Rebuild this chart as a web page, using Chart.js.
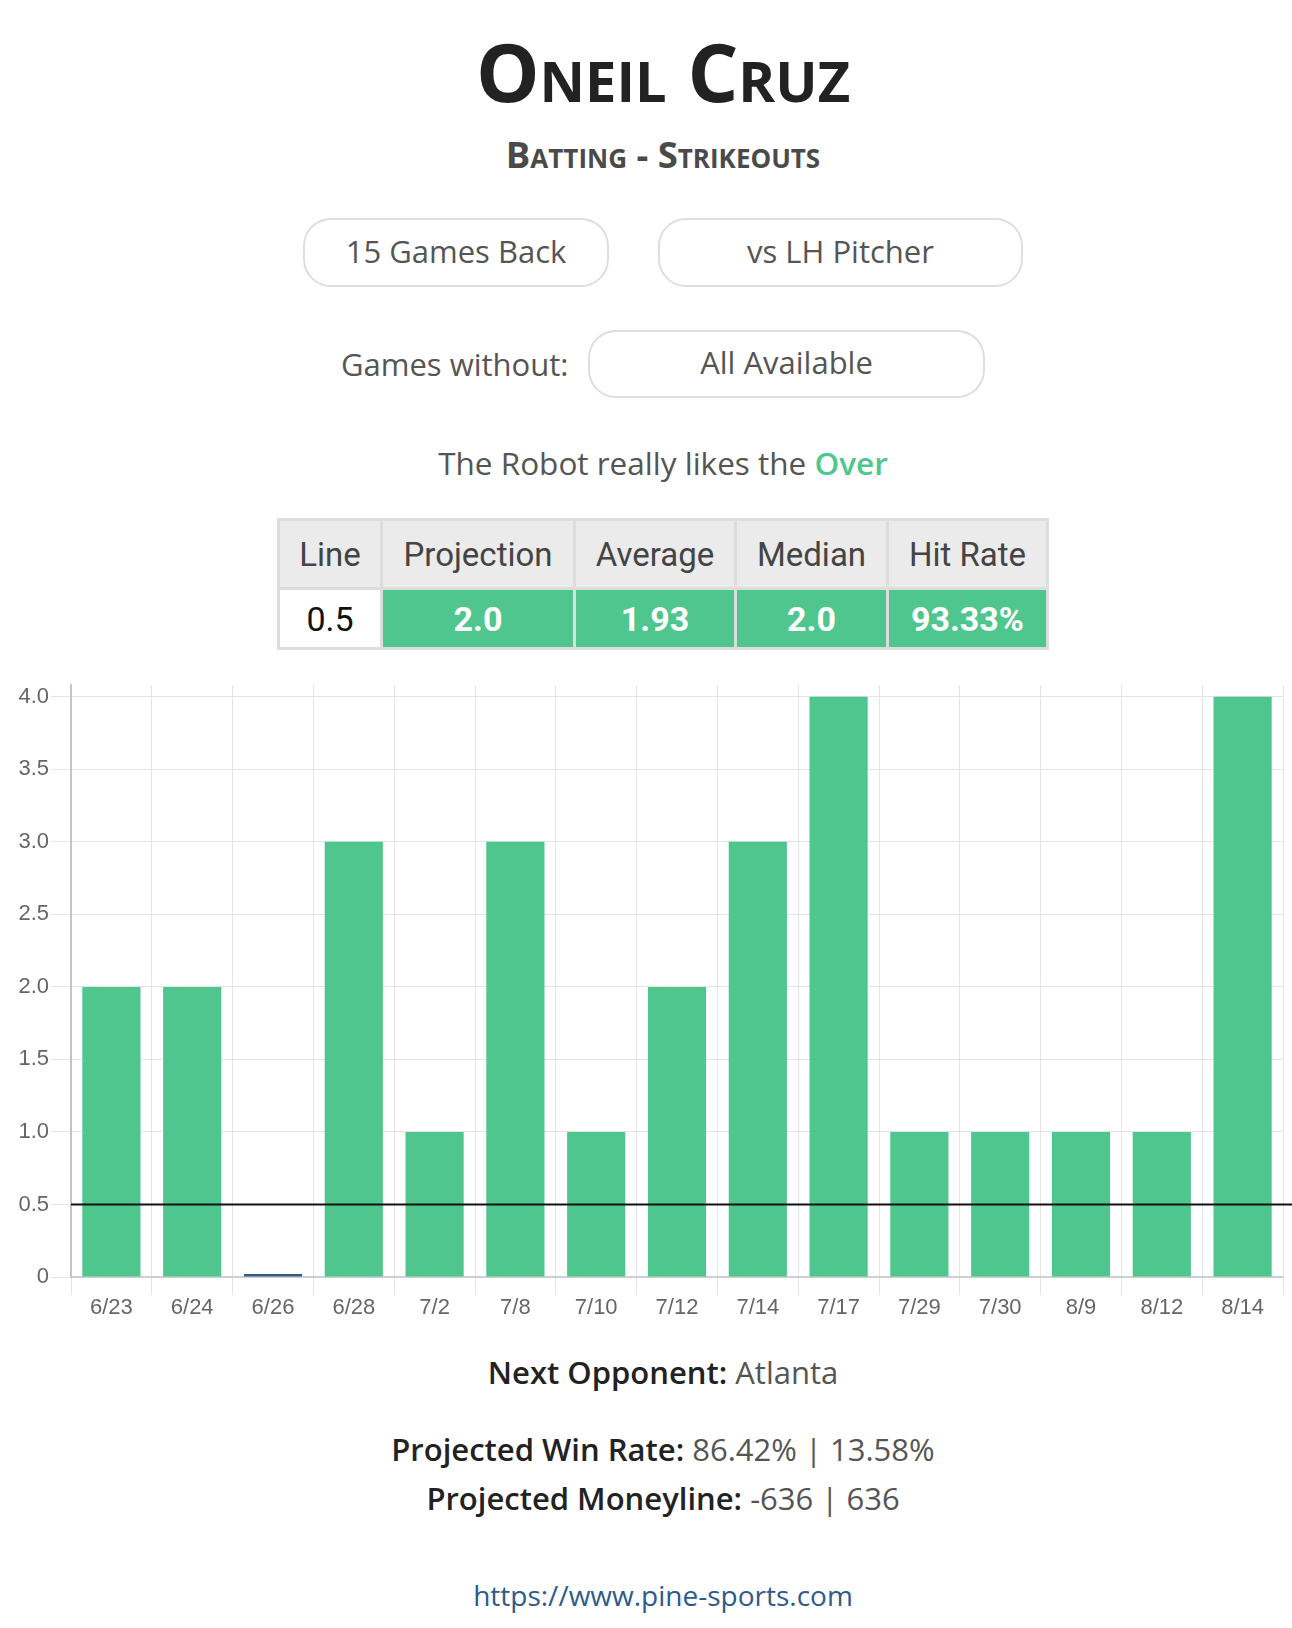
<!DOCTYPE html>
<html>
<head>
<meta charset="utf-8">
<script src="https://cdn.jsdelivr.net/npm/chart.js@4.4.1/dist/chart.umd.min.js"></script>
<style>
  html, body { margin: 0; padding: 0; background: #fff; }
  body { width: 1292px; height: 1628px; position: relative; overflow: hidden; font-family: 'Open Sans', sans-serif; }
  .center { position: absolute; left: 0; width: 1326px; text-align: center; white-space: nowrap; }
  #title { top: 21px; height: 100px; line-height: 100px; font-size: 80px; font-weight: 700; font-variant: small-caps; color: #222; }
  #subtitle { top: 134px; height: 40px; line-height: 40px; font-size: 36.5px; font-weight: 700; font-variant: small-caps; color: #4a4a4a; }
  .btn { position: absolute; box-sizing: border-box; border: 2px solid #dedede; border-radius: 28px; background: #fff;
         display: flex; align-items: center; justify-content: center; font-size: 31px; color: #555; padding-bottom: 4px; }
  #btnGames { left: 303px; top: 218px; width: 306px; height: 69px; }
  #btnHand { left: 658px; top: 218px; width: 365px; height: 69px; }
  #btnWithout { left: 588px; top: 330px; width: 397px; height: 68px; }
  #withoutLabel { position: absolute; left: 341px; top: 342px; height: 44px; line-height: 44px; font-size: 31px; color: #555; }
  #robot { top: 443px; height: 40px; line-height: 40px; font-size: 31.5px; color: #555; }
  #robot span { color: #4fc68e; font-weight: 600; }
  table { position: absolute; left: 277px; top: 518px; border-collapse: separate; border-spacing: 3px; background: #dddddd;
          font-family: Roboto, sans-serif; }
  th { background: #ebebeb; color: #444; font-weight: 400; font-size: 33px; height: 66px; padding: 0; }
  td { height: 57px; padding: 0; text-align: center; font-size: 34px; }
  td.plain { background: #fff; color: #111; }
  td.good { background: #4fc68e; color: #fff; font-weight: 700; }
  #chartBox { position: absolute; left: 0; top: 670px; width: 1292px; height: 650px; }
  .info { font-size: 31px; height: 40px; line-height: 40px; color: #555; }
  .info b { color: #222; font-weight: 600; }
  #next { top: 1352px; }
  #winRate { top: 1429px; }
  #moneyline { top: 1478px; }
  #site { top: 1575px; font-size: 28px; color: #2e5b8c; }
</style>
</head>
<body>
<div id="title" class="center">Oneil Cruz</div>
<div id="subtitle" class="center">Batting - Strikeouts</div>
<div id="btnGames" class="btn">15 Games Back</div>
<div id="btnHand" class="btn">vs LH Pitcher</div>
<div id="withoutLabel">Games without:</div>
<div id="btnWithout" class="btn">All Available</div>
<div id="robot" class="center">The Robot really likes the <span>Over</span></div>

<table>
  <tr id="headRow"></tr>
  <tr id="valueRow"></tr>
</table>

<div id="chartBox"><canvas id="chart"></canvas></div>

<div id="next" class="center info"><b>Next Opponent:</b> Atlanta</div>
<div id="winRate" class="center info"><b>Projected Win Rate:</b> 86.42% | 13.58%</div>
<div id="moneyline" class="center info"><b>Projected Moneyline:</b> -636 | 636</div>
<div id="site" class="center info">https://www.pine-sports.com</div>

<script>
// Game dates and strikeouts per game
const gameDates = ['6/23', '6/24', '6/26', '6/28', '7/2', '7/8', '7/10', '7/12', '7/14', '7/17', '7/29', '7/30', '8/9', '8/12', '8/14'];
const strikeouts = [2, 2, 0, 3, 1, 3, 1, 2, 3, 4, 1, 1, 1, 1, 4];
const lineValue = 0.5;
const yTickLabels = ['0', '0.5', '1.0', '1.5', '2.0', '2.5', '3.0', '3.5', '4.0'];

// Summary table
const statNames = ['Line', 'Projection', 'Average', 'Median', 'Hit Rate'];
const statValues = ['0.5', '2.0', '1.93', '2.0', '93.33%'];
const statWidths = [100, 190, 158, 149, 157];

const headRow = document.getElementById('headRow');
const valueRow = document.getElementById('valueRow');
statNames.forEach((name, i) => {
  const th = document.createElement('th');
  th.textContent = name;
  th.style.width = statWidths[i] + 'px';
  headRow.appendChild(th);
  const td = document.createElement('td');
  td.textContent = statValues[i];
  td.className = i === 0 ? 'plain' : 'good';
  valueRow.appendChild(td);
});

const overColor = '#4fc68e';
const underColor = '#3a5a8c';

// Draws the prop line across the chart (out to the canvas edge)
const propLinePlugin = {
  id: 'propLine',
  afterDatasetsDraw: (chart) => {
    const ctx = chart.ctx;
    const yScale = chart.scales.y;
    if (!yScale) {
      return;
    }
    const yPixel = yScale.getPixelForValue(lineValue);
    ctx.save();
    ctx.beginPath();
    ctx.moveTo(chart.chartArea.left, yPixel);
    ctx.lineTo(chart.width, yPixel);
    ctx.strokeStyle = '#111';
    ctx.lineWidth = 2;
    ctx.stroke();
    ctx.restore();
  }
};

Chart.defaults.font.family = "'Liberation Sans', Arial, sans-serif";
Chart.defaults.font.size = 22;
Chart.defaults.color = '#666';

new Chart(document.getElementById('chart'), {
  type: 'bar',
  data: {
    labels: gameDates,
    datasets: [{
      data: strikeouts,
      backgroundColor: strikeouts.map(v => v > lineValue ? overColor : underColor),
      minBarLength: 3
    }]
  },
  options: {
    responsive: true,
    maintainAspectRatio: false,
    animation: false,
    layout: { padding: { top: 10, left: 0, right: 9, bottom: 0 } },
    plugins: {
      legend: { display: false },
      tooltip: { enabled: false }
    },
    scales: {
      x: {
        grid: { color: '#e4e4e4', tickLength: 18 },
        border: { color: '#cfcfcf', width: 2 },
        ticks: { padding: 0, maxRotation: 0 },
        afterFit: (scale) => { scale.height = 43; }
      },
      y: {
        min: 0,
        max: 4.08,
        grid: { color: '#e4e4e4', tickLength: 20 },
        border: { color: '#c4c4c4', width: 2 },
        ticks: {
          stepSize: 0.5,
          includeBounds: false,
          padding: 2,
          callback: (value) => yTickLabels[Math.round(value / 0.5)]
        },
        afterBuildTicks: (scale) => { scale.ticks = scale.ticks.filter(t => t.value <= 4); },
        afterFit: (scale) => { scale.width = 71; }
      }
    }
  },
  plugins: [propLinePlugin]
});
</script>
</body>
</html>
